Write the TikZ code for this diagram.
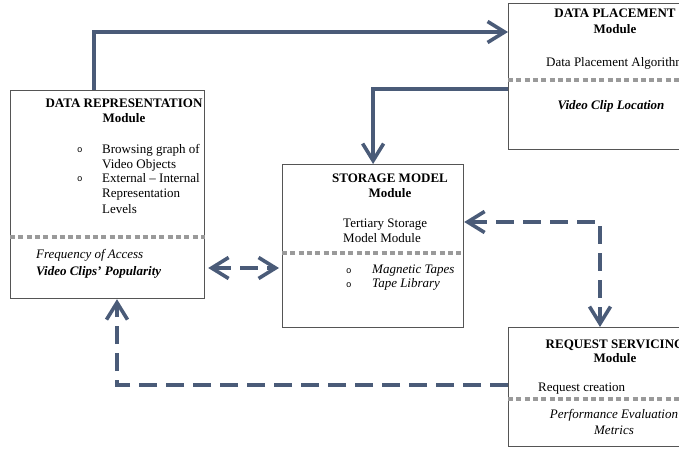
\documentclass[tikz,border=0pt]{standalone}
\usepackage{fontspec}
\setmainfont{Liberation Serif}
\setmonofont{Liberation Mono}
\usetikzlibrary{positioning, arrows.meta}
\definecolor{flowblue}{HTML}{4A5B78}
\definecolor{framegray}{HTML}{555555}
\definecolor{sepgray}{HTML}{9A9A9A}

\begin{document}
\begin{tikzpicture}[
        x=1pt, y=-1pt,
        font=\fontsize{13}{15}\selectfont,
        >={Straight Barb[length=17pt, width=21pt]},
        module/.style={rectangle, draw=framegray, line width=1.2pt, anchor=north west, inner sep=0pt},
        title/.style={anchor=base, align=center, inner sep=0pt, font=\fontsize{13}{15.5}\selectfont\bfseries},
        body/.style={anchor=base west, align=left, inner sep=0pt},
        bullet/.style={anchor=base west, inner sep=0pt, font=\fontsize{9}{14}\selectfont\ttfamily},
        separator/.style={sepgray, line width=3.3pt, dash pattern=on 5pt off 3.3pt},
        arrow/.style={flowblue, line width=3.6pt, ->},
        dasharrow/.style={arrow, dash pattern=on 18pt off 9pt}
    ]
    \useasboundingbox (0,0) rectangle (679,449);
    \clip (0,0) rectangle (679,449);

    % module frames
    \node[module, minimum width=194pt, minimum height=208pt] (rep) at (10,90) {};
    \node[module, minimum width=181pt, minimum height=163pt] (store) at (282,164) {};
    \node[module, minimum width=214pt, minimum height=146pt] (place) at (508,3) {};
    \node[module, minimum width=214pt, minimum height=119pt] (serv) at (508,327) {};

    \draw[separator] ([yshift=-147pt]rep.north west) -- ([yshift=-147pt]rep.north east);
    \draw[separator] ([yshift=-89pt]store.north west) -- ([yshift=-89pt]store.north east);
    \draw[separator] ([yshift=-77pt]place.north west) -- ([yshift=-77pt]place.north east);
    \draw[separator] ([yshift=-72pt]serv.north west) -- ([yshift=-72pt]serv.north east);

    % data representation (multi-line nodes sit on their last baseline)
    \node[title] (reptitle) at (124,123) {DATA REPRESENTATION\\Module};
    \node[bullet] (repdot1) at (77,153) {o};
    \node[bullet] (repdot2) at (77,182) {o};
    \node[body] (repitem1) at (102,168) {Browsing graph of\\Video Objects};
    \node[body, font=\fontsize{13}{15.5}\selectfont] (repitem2) at (102,213) {External -- Internal\\Representation\\Levels};
    \node[body, font=\fontsize{13}{17}\selectfont] (repfreq) at (36,275) {\textit{Frequency of Access}\\\textbf{\textit{Video Clips’ Popularity}}};

    % storage model
    \node[title, font=\fontsize{13}{14.5}\selectfont\bfseries] (storetitle) at (390,197) {STORAGE MODEL\\Module};
    \node[body] (storetext) at (343,242) {Tertiary Storage\\Model Module};
    \node[bullet] (storedot1) at (346,273) {o};
    \node[bullet] (storedot2) at (346,287) {o};
    \node[body, font=\fontsize{13}{14}\selectfont\itshape] (storeitems) at (372,287) {Magnetic Tapes\\Tape Library};

    % data placement
    \node[title, font=\fontsize{13}{16}\selectfont\bfseries] (placetitle) at (615,34) {DATA PLACEMENT\\Module};
    \node[body] (placealgo) at (546,67) {Data Placement Algorithm};
    \node[anchor=base, inner sep=0pt, font=\fontsize{13}{15}\selectfont\bfseries\itshape] (placeloc) at (611,110) {Video Clip Location};

    % request servicing
    \node[title, font=\fontsize{13}{14}\selectfont\bfseries] (servtitle) at (615,362) {REQUEST SERVICING\\Module};
    \node[body] (servreq) at (538,391) {Request creation};
    \node[anchor=base, align=center, inner sep=0pt, font=\fontsize{13}{16}\selectfont\itshape] (servperf) at (614,434) {Performance Evaluation\\Metrics};

    % connectors
    \draw[arrow] ([xshift=84pt]rep.north west) |- ([yshift=-29pt]place.north west);
    \draw[arrow] ([yshift=-86pt]place.north west) -| (store.north);
    \coordinate (popL) at ([yshift=-178pt]rep.north east);
    \draw[dasharrow, <->, shorten <=3pt, shorten >=3pt] (popL) -- (popL -| store.west);
    \draw[dasharrow, <->] ([yshift=-58pt]store.north east) -| ([xshift=92pt]serv.north west);
    \draw[dasharrow] ([yshift=-58pt]serv.north west) -| ([xshift=107pt]rep.south west);
\end{tikzpicture}
\end{document}
